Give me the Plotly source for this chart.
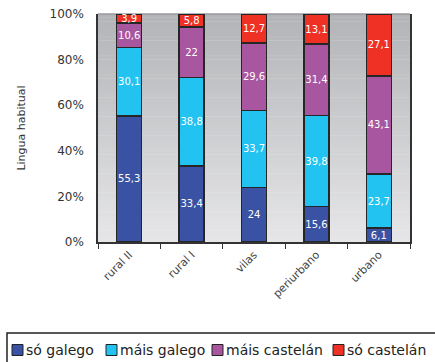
import plotly.graph_objects as go

# Lingua habitual por tipo de hábitat (%)
categories = ["rural II", "rural I", "vilas", "periurbano", "urbano"]
so_galego = [55.3, 33.4, 24, 15.6, 6.1]
mais_galego = [30.1, 38.8, 33.7, 39.8, 23.7]
mais_castelan = [10.6, 22, 29.6, 31.4, 43.1]
so_castelan = [3.9, 5.8, 12.7, 13.1, 27.1]

series_names = ["só galego", "máis galego", "máis castelán", "só castelán"]
series_values = [so_galego, mais_galego, mais_castelan, so_castelan]
series_colors = ["#3a52a3", "#22c3f0", "#a8569f", "#ee3124"]

FONT = "DejaVu Sans"
W, H = 435, 362
ML, MR, MT, MB = 98, 25, 14, 120
PW, PH = W - ML - MR, H - MT - MB


def fmt(v):
    return f"{v:g}".replace(".", ",")


def px_x(x):
    return (x - ML) / PW


def px_y(y):
    return (H - MB - y) / PH


fig = go.Figure()
for name, vals, color in zip(series_names, series_values, series_colors):
    fig.add_trace(go.Bar(
        name=name,
        x=categories,
        y=vals,
        text=[fmt(v) for v in vals],
        textposition="inside",
        insidetextanchor="middle",
        textangle=0,
        textfont=dict(family=FONT, size=10, color="white"),
        marker=dict(color=color, line=dict(color="#262626", width=1.5)),
        width=0.4,
        showlegend=False,
    ))

# vertical grey gradient behind the plot area
steps = 60
top_rgb = (178, 180, 183)
bot_rgb = (230, 230, 232)
shapes = []
for i in range(steps):
    t = i / (steps - 1)
    r, g, b = (round(bot_rgb[k] + (top_rgb[k] - bot_rgb[k]) * t) for k in range(3))
    shapes.append(dict(
        type="rect", xref="paper", yref="paper",
        x0=0, x1=1, y0=i / steps, y1=(i + 1) / steps + 0.002,
        fillcolor=f"rgb({r},{g},{b})", line=dict(width=0), layer="below",
    ))

# thin grey top edge of the plot frame
shapes.append(dict(
    type="line", xref="paper", yref="paper", x0=0, x1=1, y0=1, y1=1,
    line=dict(color="#8a8c8e", width=1), layer="below",
))

# legend box along the bottom with one row of entries
annotations = []
shapes.append(dict(
    type="rect", xref="paper", yref="paper",
    x0=px_x(7), x1=px_x(440), y0=px_y(333), y1=px_y(380),
    fillcolor="white", line=dict(color="#222222", width=1.5),
))
legend_x = [12, 106, 212, 333]
for name, color, lx in zip(series_names, series_colors, legend_x):
    shapes.append(dict(
        type="rect", xref="paper", yref="paper",
        x0=px_x(lx), x1=px_x(lx + 11), y0=px_y(355.5), y1=px_y(344.5),
        fillcolor=color, line=dict(color="#222222", width=1),
    ))
    annotations.append(dict(
        xref="paper", yref="paper", x=px_x(lx + 12), y=px_y(350),
        xanchor="left", yanchor="middle", text=name, showarrow=False,
        font=dict(family=FONT, size=14, color="#222222"),
    ))

fig.update_layout(
    barmode="stack",
    width=W,
    height=H,
    margin=dict(l=ML, r=MR, t=MT, b=MB, autoexpand=False),
    paper_bgcolor="white",
    plot_bgcolor="rgba(0,0,0,0)",
    shapes=shapes,
    annotations=annotations,
    uniformtext=dict(minsize=10, mode="show"),
    font=dict(family=FONT, color="#333333"),
    showlegend=False,
    xaxis=dict(
        type="category",
        showline=True, linecolor="#333333", linewidth=2, mirror=False,
        ticks="outside", tickson="boundaries", ticklen=5, tickcolor="#333333",
        tickangle=-45,
        tickfont=dict(family=FONT, size=11, color="#444444"),
        showgrid=False, automargin=False,
    ),
    yaxis=dict(
        range=[0, 100],
        tickvals=[0, 20, 40, 60, 80, 100],
        ticktext=["0%", "20%", "40%", "60%", "80%", "100%"],
        showline=True, linecolor="#333333", linewidth=1.5, mirror=True,
        ticks="outside", ticklen=10, tickcolor="rgba(0,0,0,0)",
        tickfont=dict(family=FONT, size=12, color="#333333"),
        showgrid=False, zeroline=False, automargin=False,
        title=dict(text="Lingua habitual", font=dict(family=FONT, size=11, color="#333333"), standoff=22),
    ),
)

fig.write_html("out.html")
